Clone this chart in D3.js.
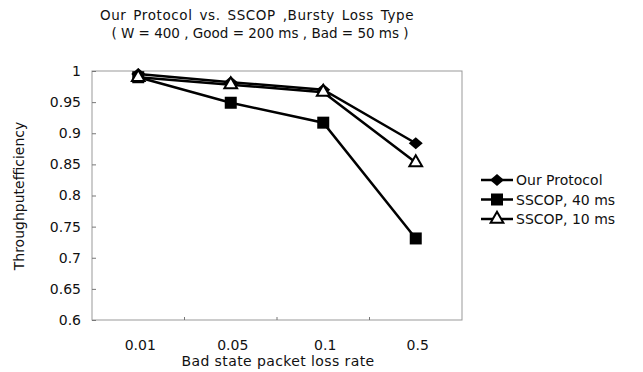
<!DOCTYPE html>
<html>
<head>
<meta charset="utf-8">
<script src="https://d3js.org/d3.v7.min.js"></script>
<style>
  body { margin: 0; background: #fff; }
  text { font-family: "DejaVu Sans", sans-serif; fill: #111; }
</style>
</head>
<body>
<div id="chart"></div>
<script>
// data
var categories = ["0.01", "0.05", "0.1", "0.5"];
var ourProtocol = [0.995, 0.982, 0.970, 0.884];
var sscop40 = [0.990, 0.949, 0.917, 0.731];
var sscop10 = [0.990, 0.978, 0.966, 0.853];
var yTicks = [0.6, 0.65, 0.7, 0.75, 0.8, 0.85, 0.9, 0.95, 1];
var seriesNames = ["Our Protocol", "SSCOP, 40 ms", "SSCOP, 10 ms"];

var W = 643, H = 372;
var margin = {top: 71, right: 181, bottom: 52, left: 92},
    width = W - margin.left - margin.right,
    height = H - margin.top - margin.bottom;

var svg = d3.select("#chart").append("svg")
    .attr("width", W).attr("height", H);

// titles
svg.append("text").attr("x", 257).attr("y", 20).attr("text-anchor", "middle")
  .style("font-size", "13.5px").style("letter-spacing", "0.6px").style("word-spacing", "2px")
  .text("Our Protocol  vs.  SSCOP ,Bursty Loss Type");
svg.append("text").attr("x", 260).attr("y", 38).attr("text-anchor", "middle")
  .style("font-size", "13.5px").text("( W = 400 ,  Good = 200 ms ,  Bad = 50 ms )");

var g = svg.append("g").attr("transform", "translate(" + margin.left + "," + margin.top + ")");

var x = d3.scaleBand().domain(categories).range([0, width]);
var y = d3.scaleLinear().domain([0.6, 1]).range([height, 0]);

// plot frame
g.append("rect").attr("width", width).attr("height", height)
  .attr("fill", "none").attr("stroke", "#999").attr("stroke-width", 1);

// y axis, ticks inward
var yAxis = g.append("g").call(d3.axisRight(y).tickValues(yTicks).tickSize(4).tickFormat(d3.format("")));
yAxis.select(".domain").remove();
yAxis.selectAll("line").attr("stroke", "#777");
yAxis.selectAll("text").attr("x", -11).attr("text-anchor", "end").style("font-size", "14px");

// x axis: ticks between categories
g.append("g").selectAll("line").data(categories.slice(1)).enter().append("line")
  .attr("x1", function(d) { return x(d); }).attr("x2", function(d) { return x(d); })
  .attr("y1", height).attr("y2", height - 3).attr("stroke", "#777");
g.append("g").selectAll("text").data(categories).enter().append("text")
  .attr("x", function(d) { return x(d) + x.bandwidth() / 2 + 2; })
  .attr("y", height + 30).attr("text-anchor", "middle").style("font-size", "14px")
  .text(function(d) { return d; });

// axis titles
svg.append("text").attr("x", 278).attr("y", 366).attr("text-anchor", "middle")
  .style("font-size", "14px").style("letter-spacing", "0.4px").text("Bad state packet loss rate");
svg.append("text").attr("transform", "translate(24,196) rotate(-90)").attr("text-anchor", "middle")
  .style("font-size", "14px").text("Throughputefficiency");

var line = d3.line()
  .x(function(d, i) { return x(categories[i]) + x.bandwidth() / 2; })
  .y(function(d) { return y(d); });

function marker(sel, type) {
  if (type === 0) {
    sel.append("path").attr("d", "M0,-6L7,0L0,6L-7,0Z").attr("fill", "#000");
  } else if (type === 1) {
    sel.append("rect").attr("x", -6).attr("y", -6).attr("width", 12).attr("height", 12).attr("fill", "#000");
  } else {
    sel.append("path").attr("d", d3.symbol().type(d3.symbolTriangle).size(70))
      .attr("fill", "#fff").attr("stroke", "#000").attr("stroke-width", 2);
  }
}

var allSeries = [sscop40, ourProtocol, sscop10];
var types = [1, 0, 2];
allSeries.forEach(function(s, k) {
  g.append("path").datum(s).attr("fill", "none").attr("stroke", "#000")
    .attr("stroke-width", 2.5).attr("d", line);
});
allSeries.forEach(function(s, k) {
  s.forEach(function(v, i) {
    var m = g.append("g").attr("transform", "translate(" + (x(categories[i]) + x.bandwidth() / 2) + "," + y(v) + ")");
    marker(m, types[k]);
  });
});

// legend
var leg = svg.append("g").attr("transform", "translate(481,180)");
seriesNames.forEach(function(n, i) {
  var r = leg.append("g").attr("transform", "translate(0," + (i * 19.5) + ")");
  r.append("line").attr("x1", 0).attr("x2", 32).attr("stroke", "#000").attr("stroke-width", 2.5);
  var m = r.append("g").attr("transform", "translate(16,0)");
  marker(m, i);
  r.append("text").attr("x", 35).attr("y", 5).style("font-size", "14px").text(n);
});
</script>
</body>
</html>
